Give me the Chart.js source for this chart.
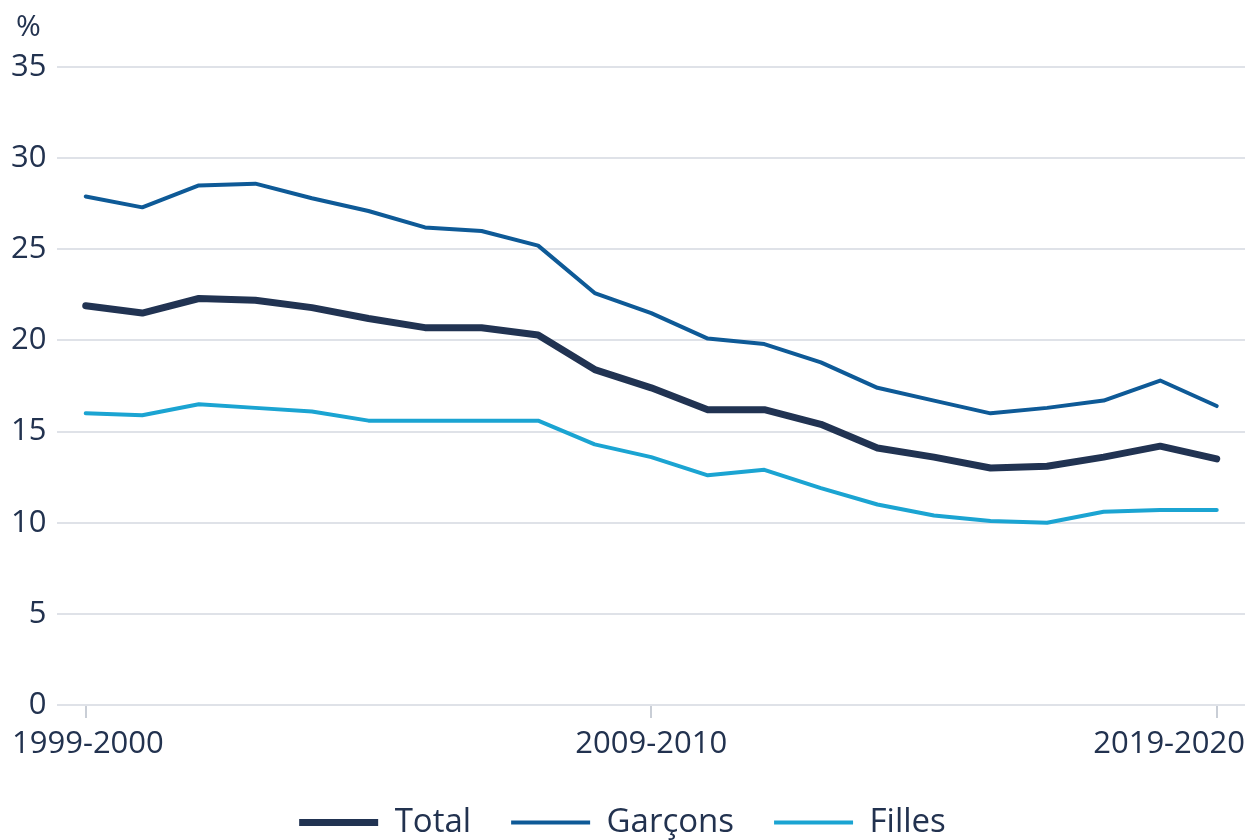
<!DOCTYPE html>
<html>
<head>
<meta charset="utf-8">
<script src="https://cdn.jsdelivr.net/npm/chart.js@4"></script>
<style>
  html, body { margin: 0; padding: 0; background: #fff; }
  #wrap { width: 1251px; height: 840px; position: relative; }
</style>
</head>
<body>
<div id="wrap"><canvas id="chart" width="1251" height="840"></canvas></div>
<script>
// school years 1999-2000 .. 2019-2020
const years = [
  "1999-2000", "2000-2001", "2001-2002", "2002-2003", "2003-2004",
  "2004-2005", "2005-2006", "2006-2007", "2007-2008", "2008-2009",
  "2009-2010", "2010-2011", "2011-2012", "2012-2013", "2013-2014",
  "2014-2015", "2015-2016", "2016-2017", "2017-2018", "2018-2019",
  "2019-2020"
];
const shownYears = ["1999-2000", "2009-2010", "2019-2020"];

const total = [21.9, 21.5, 22.3, 22.2, 21.8, 21.2, 20.7, 20.7, 20.3, 18.4,
               17.4, 16.2, 16.2, 15.4, 14.1, 13.6, 13.0, 13.1, 13.6, 14.2, 13.5];
const garcons = [27.9, 27.3, 28.5, 28.6, 27.8, 27.1, 26.2, 26.0, 25.2, 22.6,
                 21.5, 20.1, 19.8, 18.8, 17.4, 16.7, 16.0, 16.3, 16.7, 17.8, 16.4];
const filles = [16.0, 15.9, 16.5, 16.3, 16.1, 15.6, 15.6, 15.6, 15.6, 14.3,
                13.6, 12.6, 12.9, 11.9, 11.0, 10.4, 10.1, 10.0, 10.6, 10.7, 10.7];

const yTicks = [0, 5, 10, 15, 20, 25, 30, 35];

const TEXT = "#22324f";
const GRID = "#dfe2e8";
const FONT = "'Open Sans', 'Noto Sans', sans-serif";
const FS = 31;

// "%" unit label + x labels kept inside the canvas (first/last get pushed in)
const extraText = {
  id: "extraText",
  afterDraw(chart) {
    const ctx = chart.ctx;
    const x = chart.scales.x;
    ctx.save();
    ctx.fillStyle = TEXT;
    ctx.font = "30px " + FONT;
    ctx.textAlign = "left";
    ctx.textBaseline = "middle";
    ctx.fillText("%", 16, 27);

    ctx.font = FS + "px " + FONT;
    const y = chart.chartArea.bottom + 39;
    years.forEach((lab, i) => {
      if (!shownYears.includes(lab)) return;
      const w = ctx.measureText(lab).width;
      let left = x.getPixelForTick(i) - w / 2;
      left = Math.max(left, 12);
      if (left + w > chart.chartArea.right) left = chart.chartArea.right - w;
      ctx.fillText(lab, left, y);
    });
    ctx.restore();
  }
};

new Chart(document.getElementById("chart"), {
  type: "line",
  data: {
    labels: years,
    datasets: [
      { label: "Total", data: total, borderColor: "#213352", backgroundColor: "#213352",
        borderWidth: 7 },
      { label: "Garçons", data: garcons, borderColor: "#0e5a97", backgroundColor: "#0e5a97",
        borderWidth: 4 },
      { label: "Filles", data: filles, borderColor: "#1ba4d2", backgroundColor: "#1ba4d2",
        borderWidth: 4 }
    ]
  },
  options: {
    responsive: false,
    animation: false,
    layout: { padding: { top: 67, right: 6, left: 0, bottom: -9 } },
    elements: {
      point: { radius: 0 },
      line: { tension: 0, borderCapStyle: "round", borderJoinStyle: "round" }
    },
    plugins: {
      tooltip: { enabled: false },
      legend: {
        position: "bottom",
        labels: {
          usePointStyle: true,
          pointStyle: "line",
          pointStyleWidth: 79,
          padding: 40,
          color: TEXT,
          font: { family: FONT, size: 33 }
        }
      }
    },
    scales: {
      x: {
        offset: true,
        afterFit: axis => {
          axis.paddingLeft = 0;
          axis.paddingRight = 0;
          axis.height = 61;
        },
        grid: {
          offset: false,
          drawOnChartArea: false,
          tickLength: 13,
          lineWidth: 2,
          color: ctx => shownYears.includes(years[ctx.index]) ? "#c9ced6" : "rgba(0,0,0,0)"
        },
        border: { display: false },
        ticks: {
          autoSkip: false,
          maxRotation: 0,
          padding: 8,
          color: "rgba(0,0,0,0)",
          font: { family: FONT, size: FS },
          callback: (v, i) => shownYears.includes(years[i]) ? years[i] : ""
        }
      },
      y: {
        min: 0,
        max: 35,
        afterBuildTicks: axis => { axis.ticks = yTicks.map(v => ({ value: v })); },
        grid: { color: GRID, lineWidth: 2, drawTicks: false },
        border: { display: false },
        ticks: {
          padding: 11,
          color: TEXT,
          font: { family: FONT, size: FS }
        }
      }
    }
  },
  plugins: [extraText]
});
</script>
</body>
</html>
